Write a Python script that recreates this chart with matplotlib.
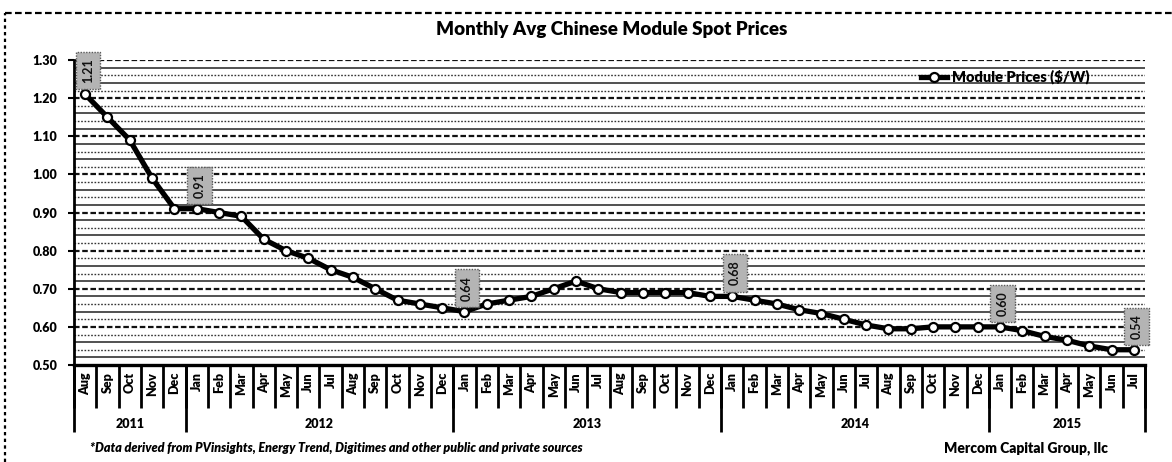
import matplotlib
matplotlib.use("Agg")
import matplotlib.pyplot as plt
from matplotlib.lines import Line2D
import numpy as np

plt.rcParams['font.family'] = ['Lato', 'DejaVu Sans']

# ---- data -------------------------------------------------------------
years = ["2011", "2012", "2013", "2014", "2015"]
months_per_year = [
    ["Aug", "Sep", "Oct", "Nov", "Dec"],
    ["Jan", "Feb", "Mar", "Apr", "May", "Jun", "Jul", "Aug", "Sep", "Oct", "Nov", "Dec"],
    ["Jan", "Feb", "Mar", "Apr", "May", "Jun", "Jul", "Aug", "Sep", "Oct", "Nov", "Dec"],
    ["Jan", "Feb", "Mar", "Apr", "May", "Jun", "Jul", "Aug", "Sep", "Oct", "Nov", "Dec"],
    ["Jan", "Feb", "Mar", "Apr", "May", "Jun", "Jul"],
]
prices_2011 = [1.21, 1.15, 1.09, 0.99, 0.91]
prices_2012 = [0.91, 0.90, 0.89, 0.83, 0.80, 0.78, 0.75, 0.73, 0.70, 0.67, 0.66, 0.65]
prices_2013 = [0.64, 0.66, 0.67, 0.68, 0.70, 0.72, 0.70, 0.69, 0.69, 0.69, 0.69, 0.68]
prices_2014 = [0.68, 0.67, 0.66, 0.645, 0.635, 0.62, 0.605, 0.595, 0.595, 0.60, 0.60, 0.60]
prices_2015 = [0.60, 0.59, 0.575, 0.565, 0.55, 0.54, 0.54]
# indices of the points carrying a value label
labelled_points = [0, 5, 17, 29, 41, 47]

series_name = "Module Prices ($/W)"
title = "Monthly Avg Chinese Module Spot Prices"
source_note = "*Data derived from PVinsights, Energy Trend, Digitimes and other public and private sources"
credit = "Mercom Capital Group, llc"

prices = prices_2011 + prices_2012 + prices_2013 + prices_2014 + prices_2015
months = [m for ms in months_per_year for m in ms]
x = np.arange(len(prices))

# ---- figure -----------------------------------------------------------
W, H = 1172, 462
fig = plt.figure(figsize=(W / 100, H / 100), dpi=100)
ax = fig.add_axes([74 / W, 1 - 365 / H, (1145 - 74) / W, (365 - 60) / H])

ax.set_xlim(-0.5, len(prices) - 0.5)
ax.set_ylim(0.50, 1.30)

# horizontal gridlines: major every 0.10, minor every 0.02
for i, v in enumerate(np.arange(0.52, 1.3001, 0.02)):
    v = round(v, 2)
    if abs(v * 10 - round(v * 10)) < 1e-6:
        ax.axhline(v, color="#111111", lw=1.6, ls=(0, (2.5, 1.2)), zorder=1)
    elif i % 2 == 0:
        ax.axhline(v, color="#222222", lw=1.1, zorder=1)
    else:
        ax.axhline(v, color="#333333", lw=1.0, ls=(0, (1.2, 1.2)), zorder=1)

ax.plot(x, prices, color="black", lw=3.8, marker="o", ms=6.5,
        mfc="white", mec="black", mew=1.6, zorder=3, label=series_name)

for i in labelled_points:
    ax.annotate(f"{prices[i]:.2f}", (x[i], prices[i]), xytext=(2, 8),
                textcoords="offset points", rotation=90, ha="center", va="bottom",
                fontsize=9, fontweight="bold", color="#111111", zorder=4,
                bbox=dict(boxstyle="square,pad=0.5", fc="#b4b4b4",
                          ec="#5a5a5a", lw=1.0, ls=(0, (1, 1))))

# spines
for s in ("top", "right"):
    ax.spines[s].set_visible(False)
ax.spines["left"].set_linewidth(2.0)
ax.spines["bottom"].set_linewidth(2.4)

# y axis
ax.set_yticks(np.arange(0.5, 1.31, 0.1))
ax.set_yticklabels([f"{v:.2f}" for v in np.arange(0.5, 1.31, 0.1)],
                   fontsize=9, fontweight="heavy")
ax.tick_params(axis="y", direction="out", length=4, width=1.5, pad=8)

# month level of the category axis
ax.set_xticks(x)
ax.set_xticklabels(months, rotation=90, fontsize=9, fontweight="heavy")
ax.set_xticks(np.arange(-0.5, len(prices), 1.0), minor=True)
ax.tick_params(axis="x", which="major", length=0, pad=5)
ax.tick_params(axis="x", which="minor", direction="out", length=31, width=2.0,
               color="black")

# year level of the category axis
counts = [len(ms) for ms in months_per_year]
edges = np.concatenate([[0], np.cumsum(counts)]) - 0.5
centers = (edges[:-1] + edges[1:]) / 2
sec = ax.secondary_xaxis("bottom")
sec.set_xticks(centers)
sec.set_xticklabels(years, fontsize=9, fontweight="heavy")
sec.set_xticks(edges, minor=True)
sec.tick_params(axis="x", which="major", length=0, pad=38)
sec.tick_params(axis="x", which="minor", direction="out", length=48, width=2.0,
                color="black")
sec.spines["bottom"].set_visible(False)

# legend
leg = ax.legend(loc="center", bbox_to_anchor=((1005 - 74) / 1071, (365 - 77) / 305),
                frameon=False, fontsize=10.5, handlelength=1.8, handletextpad=0.3,
                borderpad=0.1)
for t in leg.get_texts():
    t.set_fontweight("heavy")

# title and notes
fig.text(612 / W, 1 - 30 / H, title, ha="center", va="center",
         fontsize=13.5, fontweight="heavy")
fig.text(90 / W, 1 - 448 / H, source_note, ha="left", va="center",
         fontsize=9, fontweight="heavy", style="italic")
fig.text(1026 / W, 1 - 448 / H, credit, ha="center", va="center",
         fontsize=10, fontweight="heavy")

# dashed outer frame of the chart area
fig.add_artist(Line2D([5 / W, 1.0], [1 - 13 / H, 1 - 13 / H], transform=fig.transFigure,
                      color="black", lw=1.6, ls=(0, (3, 1.5))))
fig.add_artist(Line2D([5 / W, 5 / W], [0.0, 1 - 13 / H], transform=fig.transFigure,
                      color="black", lw=1.6, ls=(0, (1.5, 1.5))))

fig.savefig("out.png", dpi=100, facecolor="white")
